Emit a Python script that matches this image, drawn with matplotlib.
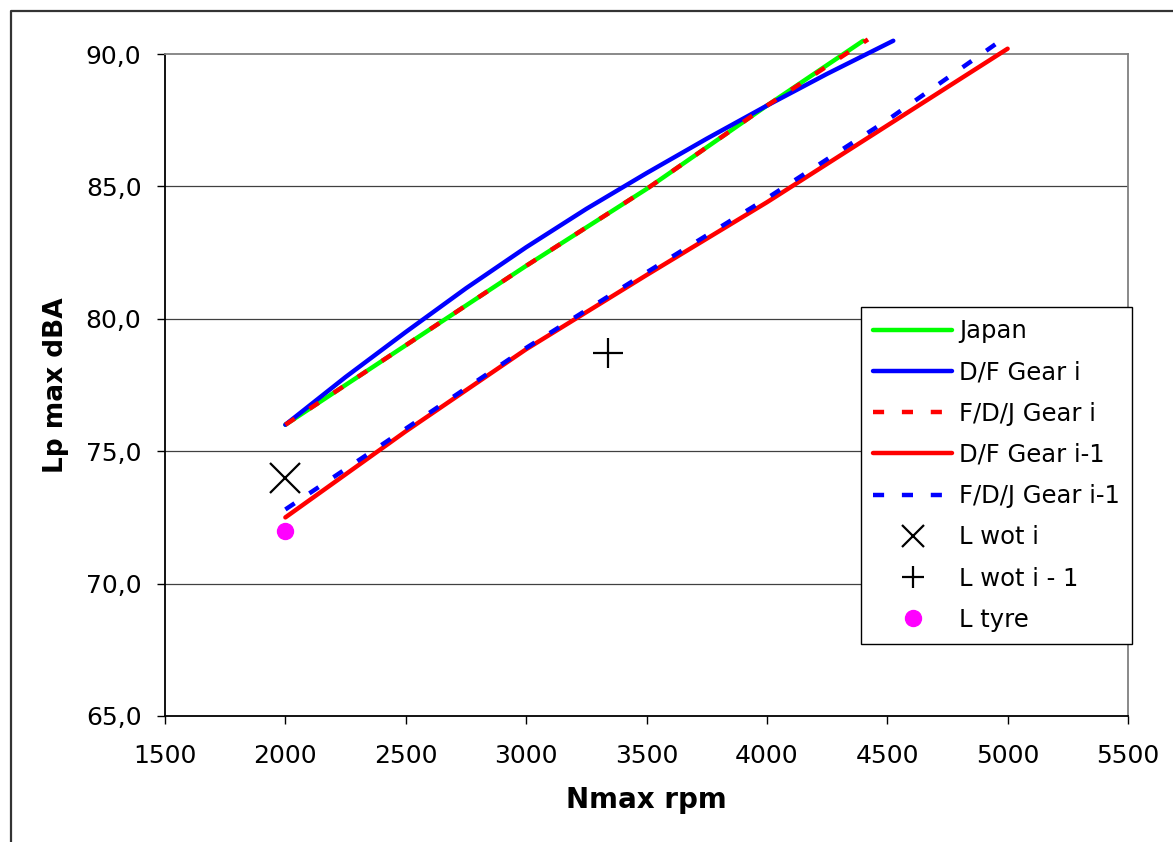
import numpy as np
import matplotlib
matplotlib.use("Agg")
import matplotlib.pyplot as plt
from matplotlib.lines import Line2D

# Data
japan_x = [2000, 2500, 3000, 3500, 4000, 4400]
japan_y = [76.0, 79.0, 82.0, 84.9, 88.05, 90.5]

df_gear_i_x = [2000, 2250, 2500, 2750, 3000, 3250, 3500, 3750, 4000, 4250, 4525]
df_gear_i_y = [76.0, 77.8, 79.5, 81.15, 82.7, 84.15, 85.5, 86.8, 88.05, 89.25, 90.5]

fdj_gear_i_x = [2000, 2500, 3000, 3500, 4000, 4420]
fdj_gear_i_y = [76.0, 79.0, 82.0, 84.9, 88.05, 90.55]

df_gear_i1_x = [2000, 2500, 3000, 3500, 4000, 4500, 5000]
df_gear_i1_y = [72.5, 75.75, 78.85, 81.65, 84.4, 87.3, 90.2]

fdj_gear_i1_x = [2000, 2500, 3000, 3500, 4000, 4500, 4970]
fdj_gear_i1_y = [72.8, 75.85, 78.9, 81.75, 84.55, 87.5, 90.5]

l_wot_i = (2000, 74.0)
l_wot_i1 = (3340, 78.7)
l_tyre = (2000, 72.0)

x_ticks = [1500, 2000, 2500, 3000, 3500, 4000, 4500, 5000, 5500]
y_ticks = [65, 70, 75, 80, 85, 90]
y_tick_labels = ["65,0", "70,0", "75,0", "80,0", "85,0", "90,0"]

W, H = 1173, 842
fig = plt.figure(figsize=(W / 100, H / 100), dpi=100)
ax = fig.add_axes([165 / W, (H - 716) / H, 963 / W, 662 / H])

# outer chart border
fig.add_artist(Line2D([11 / W, 11 / W, 1.0], [0.0, 1 - 11 / H, 1 - 11 / H],
                      transform=fig.transFigure, color="#333333", lw=1.6))

lw = 3.2
dash = (0, (2.5, 4.0))
ax.plot(japan_x, japan_y, color="#00FF00", lw=lw, solid_capstyle="round",
        solid_joinstyle="round", clip_on=False, zorder=3, label="Japan")
ax.plot(df_gear_i_x, df_gear_i_y, color="#0000FF", lw=lw, solid_capstyle="round",
        solid_joinstyle="round", clip_on=False, zorder=3, label="D/F Gear i")
ax.plot(fdj_gear_i_x, fdj_gear_i_y, color="#FF0000", lw=lw, ls=dash,
        dash_capstyle="butt", clip_on=False, zorder=3, label="F/D/J Gear i")
ax.plot(df_gear_i1_x, df_gear_i1_y, color="#FF0000", lw=lw, solid_capstyle="round",
        solid_joinstyle="round", clip_on=False, zorder=3, label="D/F Gear i-1")
ax.plot(fdj_gear_i1_x, fdj_gear_i1_y, color="#0000FF", lw=lw, ls=dash,
        dash_capstyle="butt", clip_on=False, zorder=3, label="F/D/J Gear i-1")

ax.plot(*l_wot_i, marker="x", ms=21, mew=1.6, color="black", ls="none", zorder=4)
ax.plot(*l_wot_i1, marker="+", ms=21, mew=1.6, color="black", ls="none", zorder=4)
ax.plot(*l_tyre, marker="o", ms=11.5, color="#FF00FF", mec="#FF00FF", ls="none", zorder=4)

ax.set_xlim(1500, 5500)
ax.set_ylim(65, 90)
ax.set_xticks(x_ticks)
ax.set_yticks(y_ticks)
ax.set_yticklabels(y_tick_labels)
ax.tick_params(axis="both", direction="out", length=6, width=1, colors="black",
               labelsize=18)
ax.tick_params(axis="y", pad=11)
ax.tick_params(axis="x", pad=14)

for y in y_ticks[1:-1]:
    ax.axhline(y, color="#404040", lw=0.9, zorder=1)

ax.spines["left"].set_color("black")
ax.spines["bottom"].set_color("black")
ax.spines["top"].set_color("#808080")
ax.spines["right"].set_color("#808080")
for s in ax.spines.values():
    s.set_linewidth(1.3)

ax.set_xlabel("Nmax rpm", fontsize=20, fontweight="bold", labelpad=13)
ax.set_ylabel("Lp max dBA", fontsize=19, fontweight="bold", labelpad=12)

handles, labels = ax.get_legend_handles_labels()
handles += [
    Line2D([], [], marker="x", ms=16, mew=1.6, color="black", ls="none"),
    Line2D([], [], marker="+", ms=16, mew=1.6, color="black", ls="none"),
    Line2D([], [], marker="o", ms=11.5, color="#FF00FF", ls="none"),
]
labels += ["L wot i", "L wot i - 1", "L tyre"]
leg = ax.legend(handles, labels, loc="upper left",
                bbox_to_anchor=((861 - 165) / 963, (716 - 307) / 662),
                fontsize=17.5, frameon=True, fancybox=False, edgecolor="black",
                framealpha=1, handlelength=3.25, handletextpad=0.3,
                labelspacing=0.71, borderpad=0.5, borderaxespad=0)
leg.get_frame().set_linewidth(1.0)
leg.set_zorder(5)

fig.savefig("out.png", dpi=100)
